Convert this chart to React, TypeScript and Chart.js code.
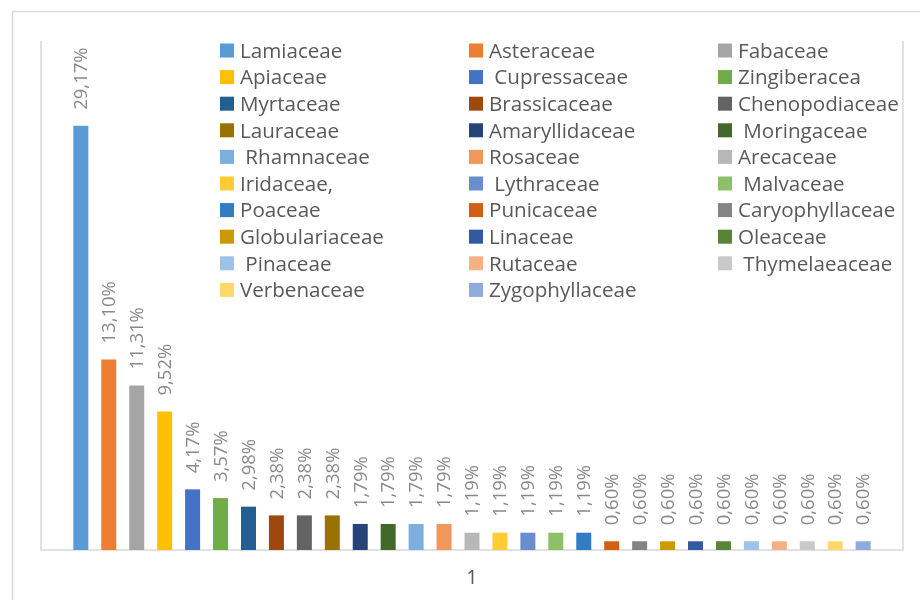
import { useEffect, useRef } from "react";
import { Chart, registerables } from "chart.js";

Chart.register(...registerables);

// Single category on the x axis
const categories = ["1"];

// Plant families, in series order (legend reads row by row, three per row)
const families = [
  "Lamiaceae",
  "Asteraceae",
  "Fabaceae",
  "Apiaceae",
  " Cupressaceae",
  "Zingiberacea",
  "Myrtaceae",
  "Brassicaceae",
  "Chenopodiaceae",
  "Lauraceae",
  "Amaryllidaceae",
  " Moringaceae",
  " Rhamnaceae",
  "Rosaceae",
  "Arecaceae",
  "Iridaceae,",
  " Lythraceae",
  " Malvaceae",
  "Poaceae",
  "Punicaceae",
  "Caryophyllaceae",
  "Globulariaceae",
  "Linaceae",
  "Oleaceae",
  " Pinaceae",
  "Rutaceae",
  " Thymelaeaceae",
  "Verbenaceae",
  "Zygophyllaceae",
];

// Share of each family, in percent
const shares = [
  29.17, 13.1, 11.31, 9.52, 4.17, 3.57, 2.98, 2.38, 2.38, 2.38, 1.79, 1.79,
  1.79, 1.79, 1.19, 1.19, 1.19, 1.19, 1.19, 0.6, 0.6, 0.6, 0.6, 0.6, 0.6, 0.6,
  0.6, 0.6, 0.6,
];

const colors = [
  "#5b9bd5", "#ed7d31", "#a5a5a5", "#ffc000", "#4472c4", "#70ad47",
  "#255e91", "#9e480e", "#636363", "#997300", "#264478", "#43682b",
  "#7cafdd", "#f1975a", "#b7b7b7", "#ffcd33", "#698ed0", "#8cc168",
  "#327dc2", "#d26012", "#848484", "#cc9a00", "#335aa1", "#578535",
  "#9dc3e6", "#f4b183", "#c9c9c9", "#ffd966", "#8faadc",
];

const FONT = "'Open Sans', 'DejaVu Sans', sans-serif";

const formatShare = (v: number) => v.toFixed(2).replace(".", ",") + "%";

// Outer chart border and plot frame lines
const framePlugin = {
  id: "frame",
  beforeDraw(chart: any) {
    const { ctx, chartArea, width, height } = chart;
    ctx.save();
    ctx.fillStyle = "#ffffff";
    ctx.fillRect(0, 0, width, height);
    ctx.strokeStyle = "#d9d9d9";
    ctx.lineWidth = 1.5;
    ctx.beginPath();
    ctx.moveTo(12.5, height);
    ctx.lineTo(12.5, 11.5);
    ctx.lineTo(width, 11.5);
    ctx.stroke();
    ctx.beginPath();
    ctx.moveTo(chartArea.left, chartArea.top);
    ctx.lineTo(chartArea.left, chartArea.bottom);
    ctx.lineTo(chartArea.right, chartArea.bottom);
    ctx.lineTo(chartArea.right, chartArea.top);
    ctx.stroke();
    ctx.restore();
  },
};

// Rotated value labels above each bar
const valueLabelPlugin = {
  id: "valueLabels",
  afterDatasetsDraw(chart: any) {
    const { ctx } = chart;
    ctx.save();
    ctx.fillStyle = "#8a8a8a";
    ctx.font = `18.5px ${FONT}`;
    ctx.textAlign = "left";
    ctx.textBaseline = "middle";
    chart.data.datasets.forEach((ds: any, i: number) => {
      const meta = chart.getDatasetMeta(i);
      const bar = meta.data[0];
      if (!bar) return;
      ctx.save();
      ctx.translate(bar.x, bar.y - 16);
      ctx.rotate(-Math.PI / 2);
      ctx.fillText(formatShare(ds.data[0]), 0, 1);
      ctx.restore();
    });
    ctx.restore();
  },
};

// Three-column legend inside the plot area
const gridLegendPlugin = {
  id: "gridLegend",
  afterDraw(chart: any) {
    const { ctx } = chart;
    const colX = [220, 469, 718];
    const rowY0 = 51;
    const rowStep = 26.6;
    ctx.save();
    ctx.font = `20.6px ${FONT}`;
    ctx.textAlign = "left";
    ctx.textBaseline = "middle";
    chart.data.datasets.forEach((ds: any, i: number) => {
      const col = i % 3;
      const row = Math.floor(i / 3);
      const x = colX[col];
      const y = rowY0 + row * rowStep;
      ctx.fillStyle = ds.backgroundColor;
      ctx.fillRect(x, y - 7.5, 14, 14);
      ctx.fillStyle = "#595959";
      ctx.fillText(ds.label, x + 20, y + 1);
    });
    ctx.restore();
  },
};

export default function App() {
  const canvasRef = useRef<HTMLCanvasElement | null>(null);

  useEffect(() => {
    const canvas = canvasRef.current;
    if (!canvas) return;
    const chart = new Chart(canvas, {
      type: "bar",
      data: {
        labels: categories,
        datasets: families.map((name, i) => ({
          label: name,
          data: [shares[i]],
          backgroundColor: colors[i],
          borderWidth: 0,
          categoryPercentage: 0.94,
          barPercentage: 0.537,
        })),
      },
      options: {
        responsive: false,
        animation: false,
        layout: { padding: { left: 41, top: 41, right: 17, bottom: 0 } },
        plugins: {
          legend: { display: false },
          tooltip: { enabled: false },
        },
        scales: {
          x: {
            grid: { display: false, drawTicks: false },
            border: { display: false },
            ticks: {
              color: "#595959",
              font: { family: FONT, size: 20 },
              padding: 16,
            },
            afterFit(scale: any) {
              scale.height = 50;
            },
          },
          y: {
            display: false,
            min: 0,
            max: 35,
          },
        },
      },
      plugins: [framePlugin, valueLabelPlugin, gridLegendPlugin],
    });
    return () => chart.destroy();
  }, []);

  return (
    <div style={{ position: "fixed", left: 0, top: 0, width: 920, height: 600, background: "#fff" }}>
      <canvas ref={canvasRef} width={920} height={600} />
    </div>
  );
}
